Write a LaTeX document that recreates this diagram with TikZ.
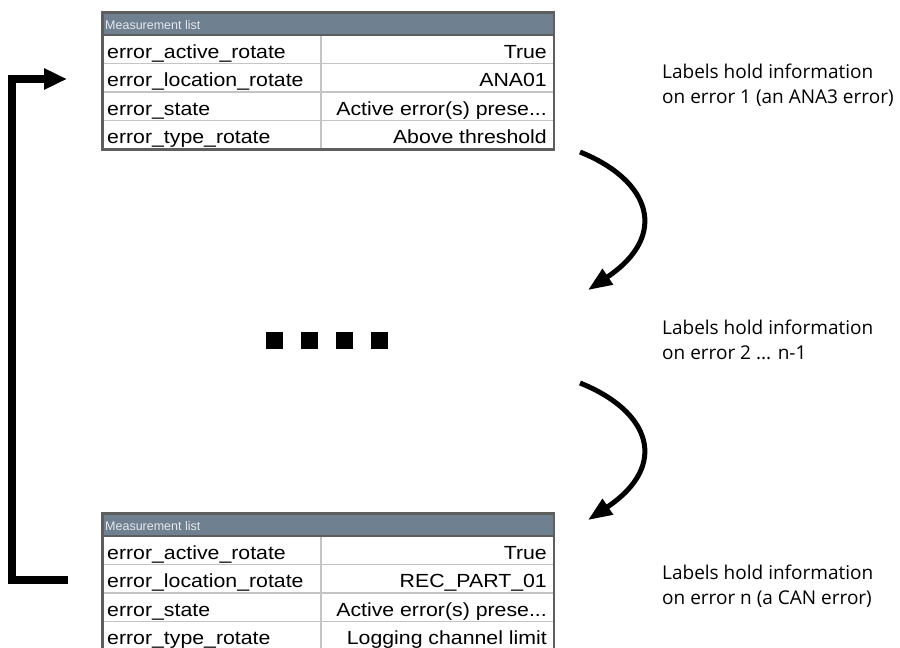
\documentclass[tikz,border=0pt]{standalone}
\usepackage{fontspec}
\setmainfont{Open Sans}
\newfontfamily\arialf{Liberation Sans}
\usetikzlibrary{arrows.meta}
\definecolor{hdr}{HTML}{6F8091}
\definecolor{frm}{HTML}{5E5E5E}
\definecolor{gridc}{HTML}{C4C4C4}
\definecolor{hdrtxt}{HTML}{E6E8EA}
\tikzset{
  cell/.style={inner sep=0pt, font=\arialf\fontsize{19}{22}\selectfont},
  hdrlbl/.style={inner sep=0pt, text=hdrtxt, font=\arialf\fontsize{12.5}{14}\selectfont},
  note/.style={inner sep=0pt, anchor=base west, font=\fontsize{19}{23}\selectfont},
  sq/.style={fill=black, minimum size=17pt, inner sep=0pt},
  curvarrow/.style={line width=5pt, -{Triangle[length=24pt,width=18pt]}},
  looparrow/.style={line width=7.5pt, line join=miter, -{Triangle[length=23pt,width=20pt]}},
}
\newcommand\wide[1]{\scalebox{1.12}[1]{#1}}
\newcommand\mtable[6]{%
  \fill[hdr] (101,#2) rectangle (555,#2+24);
  \foreach \k in {1,2,3} {\draw[gridc, line width=1.5pt] (101,#2+24+28.5*\k) -- (555,#2+24+28.5*\k);}
  \draw[gridc, line width=1.5pt] (321,#2+24) -- (321,#2+138);
  \draw[frm, line width=1.5pt] (101,#2+24) -- (555,#2+24);
  \draw[frm, line width=2.5pt] (102.25,#2+1.25) rectangle (553.75,#2+138.5);
  \node[hdrlbl, anchor=base west] (#1h) at (105,#2+18) {Measurement list};
  \node[cell, anchor=base west] (#1a) at (107,#2+24+23) {\wide{error\_active\_rotate}};
  \node[cell, anchor=base west] (#1b) at (107,#2+52.5+23) {\wide{error\_location\_rotate}};
  \node[cell, anchor=base west] (#1c) at (107,#2+81+23) {\wide{error\_state}};
  \node[cell, anchor=base west] (#1d) at (107,#2+109.5+23) {\wide{error\_type\_rotate}};
  \node[cell, anchor=base east] (#1va) at (547,#2+24+23) {\wide{#3}};
  \node[cell, anchor=base east] (#1vb) at (547,#2+52.5+23) {\wide{#4}};
  \node[cell, anchor=base east] (#1vc) at (547,#2+81+23) {\wide{#5}};
  \node[cell, anchor=base east] (#1vd) at (547,#2+109.5+23) {\wide{#6}};
}
\begin{document}
\begin{tikzpicture}[x=1pt,y=-1pt]
\useasboundingbox (0,0) rectangle (900,648);
\begin{scope}
\clip (0,0) rectangle (900,648);
\mtable{ta}{11}{True}{ANA01}{Active error(s) prese...}{Above threshold}
\mtable{tb}{512}{True}{REC\_PART\_01}{Active error(s) prese...}{Logging channel limit}
\end{scope}

% dots
\node[sq] (d1) at (274.5,340.5) {};
\node[sq] (d2) at (309.5,340.5) {};
\node[sq] (d3) at (344.5,340.5) {};
\node[sq] (d4) at (379.5,340.5) {};

% loop arrow
\coordinate (ls) at (68,580);
\coordinate (le) at (67,79);
\draw[looparrow] (ls) -- ++(-56,0) |- (le);

% curved arrows
\coordinate (c1s) at (580,152);
\coordinate (c1e) at (588,290);
\coordinate (c2s) at (580,383);
\coordinate (c2e) at (588,520);
\draw[curvarrow] (c1s) .. controls (650,180) and (670,235) .. (c1e);
\draw[curvarrow] (c2s) .. controls (650,411) and (670,465) .. (c2e);

% notes
\node[note] (n1a) at (662,78) {Labels hold information};
\node[note] (n1b) at (662,103) {on error 1 (an ANA3 error)};
\node[note] (n2a) at (662,334) {Labels hold information};
\node[note] (n2b) at (662,359) {on error 2 ... n-1};
\node[note] (n3a) at (662,579) {Labels hold information};
\node[note] (n3b) at (662,604) {on error n (a CAN error)};
\end{tikzpicture}
\end{document}
